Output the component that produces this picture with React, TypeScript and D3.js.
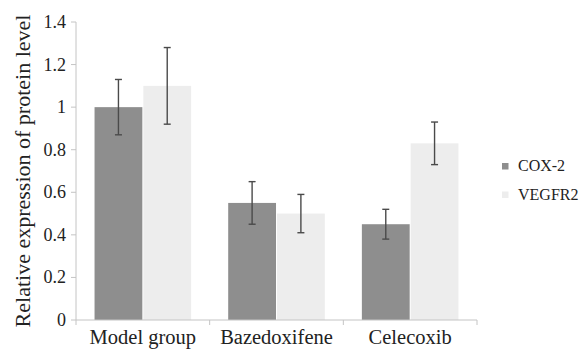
import React from "react";
import * as d3 from "d3";

const categories = ["Model group", "Bazedoxifene", "Celecoxib"];
const seriesNames = ["COX-2", "VEGFR2"];
const cox2Values = [1.0, 0.55, 0.45];
const cox2Errors = [0.13, 0.1, 0.07];
const vegfr2Values = [1.1, 0.5, 0.83];
const vegfr2Errors = [0.18, 0.09, 0.1];
const yTicks = [0, 0.2, 0.4, 0.6, 0.8, 1, 1.2, 1.4];
const colors = ["#8e8e8e", "#ededed"];

const W = 581, H = 350;
const left = 76, right = 477, top = 22, bottom = 320;

export default function App() {
  const x = d3.scaleBand<string>().domain(categories).range([left, right]).paddingInner(0).paddingOuter(0);
  const y = d3.scaleLinear().domain([0, 1.4]).range([bottom, top]);
  const inner = d3.scaleBand<string>().domain(seriesNames).range([0, x.bandwidth()]).paddingInner(0.02).paddingOuter(0.38);
  const series = [
    { name: seriesNames[0], values: cox2Values, errors: cox2Errors, color: colors[0] },
    { name: seriesNames[1], values: vegfr2Values, errors: vegfr2Errors, color: colors[1] },
  ];
  const textStyle: React.CSSProperties = { fontFamily: '"Liberation Serif", "DejaVu Serif", serif' };
  return (
    <svg width={W} height={H} style={{ position: "absolute", left: 0, top: 0, background: "#fff" }}>
      <rect x={0} y={0} width={W} height={H} fill="#fff" />
      {series.map((s) =>
        categories.map((c, i) => {
          const bx = (x(c) as number) + (inner(s.name) as number);
          const bw = inner.bandwidth();
          return (
            <rect key={s.name + c} x={bx} y={y(s.values[i])} width={bw} height={bottom - y(s.values[i])} fill={s.color} />
          );
        })
      )}
      {series.map((s) =>
        categories.map((c, i) => {
          const cx = (x(c) as number) + (inner(s.name) as number) + inner.bandwidth() / 2;
          const y1 = y(s.values[i] + s.errors[i]);
          const y2 = y(s.values[i] - s.errors[i]);
          return (
            <g key={"e" + s.name + c} stroke="#4a4a4a" strokeWidth={1.4}>
              <line x1={cx} x2={cx} y1={y1} y2={y2} />
              <line x1={cx - 3.5} x2={cx + 3.5} y1={y1} y2={y1} />
              <line x1={cx - 3.5} x2={cx + 3.5} y1={y2} y2={y2} />
            </g>
          );
        })
      )}
      <line x1={left} x2={left} y1={top} y2={bottom} stroke="#c4c4c4" strokeWidth={1} />
      {yTicks.map((t) => (
        <g key={t}>
          <line x1={left - 5} x2={left} y1={y(t)} y2={y(t)} stroke="#c4c4c4" />
          <text x={left - 10} y={y(t)} dy="0.33em" textAnchor="end" style={textStyle} fontSize={18} fill="#222">
            {String(t)}
          </text>
        </g>
      ))}
      <line x1={left} x2={right} y1={bottom} y2={bottom} stroke="#c4c4c4" strokeWidth={1} />
      {[...categories.map((c) => x(c) as number), right].map((px, i) => (
        <line key={"xt" + i} x1={px} x2={px} y1={bottom} y2={bottom + 5} stroke="#c4c4c4" />
      ))}
      {categories.map((c) => (
        <text key={c} x={(x(c) as number) + x.bandwidth() / 2} y={344} textAnchor="middle" style={textStyle} fontSize={20.5} fill="#222">
          {c}
        </text>
      ))}
      <text transform={`translate(30, 171) rotate(-90)`} textAnchor="middle" style={textStyle} fontSize={22} fill="#222">
        Relative expression of protein level
      </text>
      {series.map((s, i) => (
        <g key={"lg" + s.name}>
          <rect x={502} y={163 + i * 28.5} width={6.5} height={6.5} fill={s.color} />
          <text x={518} y={171 + i * 28.5} style={textStyle} fontSize={16} fill="#222">
            {s.name}
          </text>
        </g>
      ))}
    </svg>
  );
}
